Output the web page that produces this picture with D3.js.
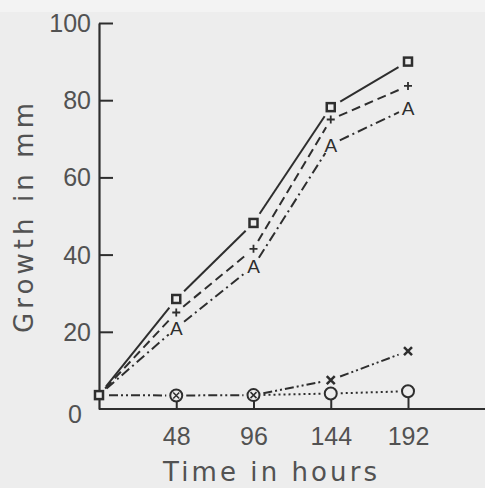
<!DOCTYPE html>
<html><head><meta charset="utf-8">
<script src="https://cdn.jsdelivr.net/npm/d3@7"></script>
<style>
html,body{margin:0;padding:0;background:#ededed;}
svg{display:block;}
</style></head>
<body>
<script>
// ---- data ----
const hours = [0, 48, 96, 144, 192];
const xTicks = [48, 96, 144, 192];
const yTicks = [0, 20, 40, 60, 80, 100];
const squareSeries = [3.6, 28.5, 48.2, 78.2, 90];
const plusSeries   = [3.6, 25, 41.5, 75, 83.7];
const aSeries      = [3.6, 21, 37, 68.5, 78];
const crossSeries  = [3.6, 3.5, 3.6, 7.5, 15];
const circleSeries = [3.6, 3.5, 3.6, 4.0, 4.6];
const xTitle = "Time  in  hours";
const yTitle = "Growth  in  mm";

const W = 485, H = 488;
const ink = "#2e2e2e", txt = "#525252";
const svg = d3.select("body").append("svg").attr("width", W).attr("height", H);
svg.append("rect").attr("width", W).attr("height", H).attr("fill", "#ededed");
svg.append("rect").attr("width", W).attr("height", 12).attr("fill", "#f3f3f3");

const x = d3.scaleLinear().domain([0, 192]).range([99, 408]);
const y = d3.scaleLinear().domain([0, 100]).range([409, 23]);
const font = "'Liberation Sans', Arial, sans-serif";
const tfont = "'DejaVu Sans', sans-serif";

// axes
const gy = svg.append("g").attr("transform", `translate(${x(0)},0)`)
  .call(d3.axisLeft(y).tickValues(yTicks).tickSizeInner(-14).tickSizeOuter(0).tickPadding(8).tickFormat(d3.format("d")));
gy.select(".domain").attr("stroke", ink).attr("stroke-width", 2.2);
gy.selectAll(".tick line").attr("stroke", ink).attr("stroke-width", 2).attr("opacity", d => d === 0 ? 0 : 1);
gy.selectAll(".tick text").attr("font-family", font).attr("font-size", 25).attr("fill", txt)
  .attr("dx", d => d === 0 ? -9 : 0).attr("dy", d => d === 0 ? "0.55em" : "0.34em");

svg.append("line").attr("x1", x(0)).attr("x2", W).attr("y1", y(0)).attr("y2", y(0))
  .attr("stroke", ink).attr("stroke-width", 2.2);
const gx = svg.append("g").attr("transform", `translate(0,${y(0)})`)
  .call(d3.axisBottom(x).tickValues(xTicks).tickSizeInner(-11).tickSizeOuter(0).tickPadding(18));
gx.select(".domain").remove();
gx.selectAll(".tick line").attr("stroke", ink).attr("stroke-width", 2);
gx.selectAll(".tick text").attr("font-family", font).attr("font-size", 25).attr("fill", txt);

svg.append("text").attr("x", 270).attr("y", 481).attr("text-anchor", "middle")
  .attr("font-family", tfont).attr("font-size", 26).attr("fill", txt)
  .attr("textLength", 214).attr("lengthAdjust", "spacing").text(xTitle);
svg.append("text").attr("transform", "translate(33,218) rotate(-90)").attr("text-anchor", "middle")
  .attr("font-family", tfont).attr("font-size", 26).attr("fill", txt)
  .attr("textLength", 230).attr("lengthAdjust", "spacing").text(yTitle);

// series lines with gaps near markers
function segs(vals, dash, gap, skipSame, other) {
  for (let i = 0; i < vals.length - 1; i++) {
    if (skipSame && vals[i] === other[i] && vals[i + 1] === other[i + 1]) continue;
    const x1 = x(hours[i]), y1 = y(vals[i]), x2 = x(hours[i + 1]), y2 = y(vals[i + 1]);
    const L = Math.hypot(x2 - x1, y2 - y1), ux = (x2 - x1) / L, uy = (y2 - y1) / L;
    svg.append("line")
      .attr("x1", x1 + ux * gap).attr("y1", y1 + uy * gap)
      .attr("x2", x2 - ux * gap).attr("y2", y2 - uy * gap)
      .attr("stroke", ink).attr("stroke-width", 2).attr("stroke-dasharray", dash);
  }
}
segs(squareSeries, null, 11);
segs(plusSeries, "9,5", 9);
segs(aSeries, "10,4,2,4", 10);
segs(circleSeries, "2,3", 10, true, crossSeries);
segs(crossSeries, "9,3,2,3,2,3", 10);

// markers
const pts = (vals) => vals.map((v, i) => ({ h: hours[i], v, i }));
svg.selectAll(".sq").data(pts(squareSeries)).join("rect")
  .attr("x", d => x(d.h) - 4).attr("y", d => y(d.v) - 4).attr("width", 8).attr("height", 8)
  .attr("fill", "#ededed").attr("stroke", ink).attr("stroke-width", 2.5);
svg.selectAll(".pl").data(pts(plusSeries).filter(d => d.i > 0)).join("path")
  .attr("d", d => `M${x(d.h) - 4},${y(d.v)}h8M${x(d.h)},${y(d.v) - 4}v8`)
  .attr("stroke", ink).attr("stroke-width", 1.8);
svg.selectAll(".aa").data(pts(aSeries).filter(d => d.i > 0)).join("text")
  .attr("x", d => x(d.h)).attr("y", d => y(d.v) + 7).attr("text-anchor", "middle")
  .attr("font-family", font).attr("font-size", 19).attr("fill", ink).text("A");
svg.selectAll(".ci").data(pts(circleSeries).filter(d => d.i > 0)).join("circle")
  .attr("cx", d => x(d.h)).attr("cy", d => y(d.v)).attr("r", 6)
  .attr("fill", "#ededed").attr("stroke", ink).attr("stroke-width", 2);
svg.selectAll(".cr").data(pts(crossSeries).filter(d => d.i > 0)).join("path")
  .attr("d", d => { const s = d.i < 3 ? 3 : 4; return `M${x(d.h) - s},${y(d.v) - s}l${2 * s},${2 * s}M${x(d.h) + s},${y(d.v) - s}l${-2 * s},${2 * s}`; })
  .attr("stroke", ink).attr("stroke-width", d => d.i < 3 ? 1.5 : 2.5);
</script>
</body></html>
